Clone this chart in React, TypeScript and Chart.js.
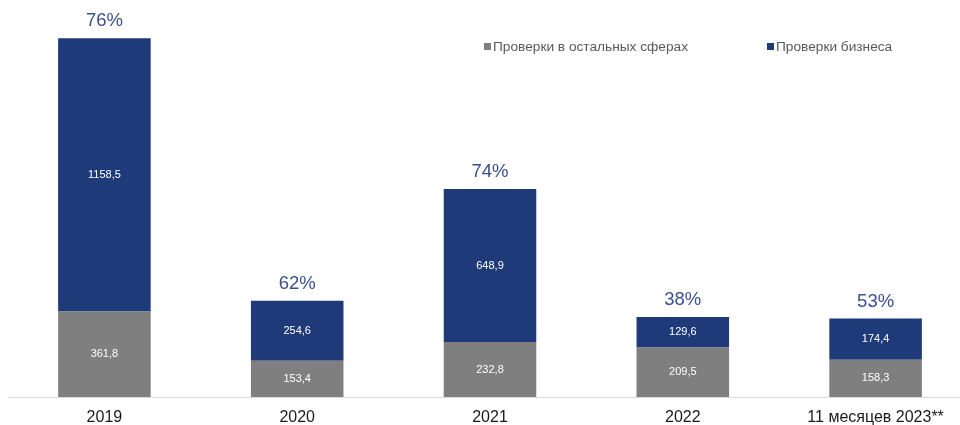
import React, { useEffect, useRef } from "react";
import { Chart, registerables } from "chart.js";

Chart.register(...registerables);

const categories = ["2019", "2020", "2021", "2022", "11 месяцев 2023**"];
const otherChecks = [361.8, 153.4, 232.8, 209.5, 158.3];
const businessChecks = [1158.5, 254.6, 648.9, 129.6, 174.4];
const shareLabels = ["76%", "62%", "74%", "38%", "53%"];
const seriesNames = ["Проверки в остальных сферах", "Проверки бизнеса"];

const GRAY = "#7f7f7f";
const BLUE = "#1f3a78";

const fmt = (v: number) => v.toFixed(1).replace(".", ",");

const labelPlugin = {
  id: "barLabels",
  afterDatasetsDraw(chart: any) {
    const ctx = chart.ctx;
    ctx.save();
    ctx.textAlign = "center";
    ctx.textBaseline = "middle";
    chart.data.datasets.forEach((ds: any, di: number) => {
      const meta = chart.getDatasetMeta(di);
      meta.data.forEach((bar: any, i: number) => {
        const y = (bar.y + bar.base) / 2;
        ctx.fillStyle = "#ffffff";
        ctx.font = "11px 'Liberation Sans', Arial, sans-serif";
        ctx.fillText(fmt(ds.data[i]), bar.x, y);
      });
    });
    const top = chart.getDatasetMeta(chart.data.datasets.length - 1);
    top.data.forEach((bar: any, i: number) => {
      ctx.fillStyle = "#3b4f8e";
      ctx.font = "18.5px 'Liberation Sans', Arial, sans-serif";
      ctx.fillText(shareLabels[i], bar.x, bar.y - 17);
    });
    ctx.restore();
  },
};

const CANVAS_H = 425;

export default function App() {
  const ref = useRef<HTMLCanvasElement>(null);
  useEffect(() => {
    document.body.style.margin = "0";
    document.body.style.overflow = "hidden";
    const chart = new Chart(ref.current!, {
      type: "bar",
      data: {
        labels: categories,
        datasets: [
          {
            label: seriesNames[0],
            data: otherChecks,
            backgroundColor: GRAY,
            categoryPercentage: 1,
            barPercentage: 0.48,
          },
          {
            label: seriesNames[1],
            data: businessChecks,
            backgroundColor: BLUE,
            categoryPercentage: 1,
            barPercentage: 0.48,
          },
        ],
      },
      options: {
        animation: false,
        responsive: false,
        maintainAspectRatio: false,
        layout: { padding: { left: 8, right: 8, top: 0, bottom: 0 } },
        plugins: {
          legend: { display: false },
          tooltip: { enabled: false },
        },
        scales: {
          x: {
            stacked: true,
            grid: { display: false },
            border: { display: true, color: "#d9d9d9", width: 1 },
            afterFit: (s: any) => {
              s.height = 28;
            },
            ticks: {
              padding: 3,
              color: "#1a1a1a",
              font: { family: "'Liberation Sans', Arial, sans-serif", size: 16 },
              maxRotation: 0,
              autoSkip: false,
            },
          },
          y: {
            stacked: true,
            display: false,
            min: 0,
            max: 1682,
          },
        },
      },
      plugins: [labelPlugin],
    });
    return () => chart.destroy();
  }, []);

  const legendText: React.CSSProperties = {
    position: "absolute",
    top: 39,
    font: "13.7px 'Liberation Sans', Arial, sans-serif",
    color: "#595959",
    whiteSpace: "nowrap",
    display: "flex",
    alignItems: "center",
  };
  const sq = (c: string): React.CSSProperties => ({
    width: 7,
    height: 7,
    background: c,
    display: "inline-block",
    marginRight: 2,
  });

  return (
    <div style={{ position: "relative", width: 980, height: 425, overflow: "hidden" }}>
      <canvas ref={ref} width={980} height={CANVAS_H} style={{ width: 980, height: CANVAS_H, display: "block" }} />
      <div style={{ ...legendText, left: 484 }}>
        <span style={sq(GRAY)} />
        <span>{seriesNames[0]}</span>
      </div>
      <div style={{ ...legendText, left: 767 }}>
        <span style={sq(BLUE)} />
        <span>{seriesNames[1]}</span>
      </div>
    </div>
  );
}
